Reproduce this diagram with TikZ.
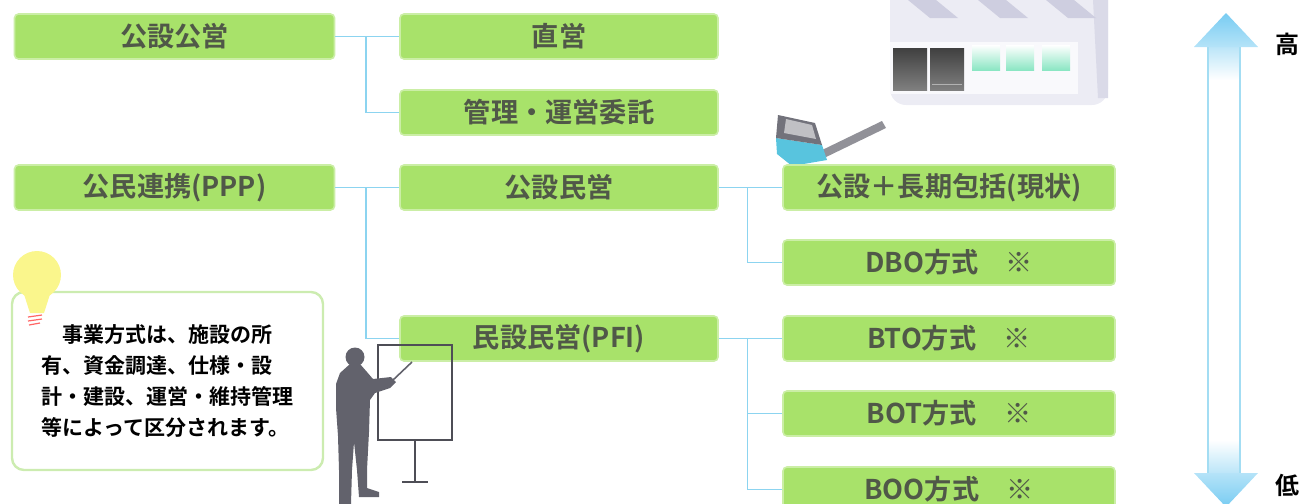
\documentclass[tikz,border=0pt]{standalone}
\usepackage{fontspec}
\setmainfont{Noto Sans CJK JP}[BoldFont={Noto Sans CJK JP Bold}]
\usetikzlibrary{calc}

\definecolor{boxgreen}{RGB}{168,226,106}
\definecolor{boxtext}{RGB}{80,88,72}
\definecolor{linkblue}{RGB}{140,212,240}
\definecolor{notegreen}{RGB}{204,236,176}
\definecolor{arrowblue}{RGB}{120,204,242}
\definecolor{figgrey}{RGB}{98,98,108}
\definecolor{wallgrey}{RGB}{236,236,244}
\definecolor{roofgrey}{RGB}{206,206,224}
\definecolor{bulbyellow}{RGB}{250,246,140}
\definecolor{truckcyan}{RGB}{88,196,222}

\tikzset{
  kind/.style={fill=boxgreen, draw=boxgreen!60!white, line width=0.8pt,
    rounded corners=2pt, minimum height=22.5pt, inner sep=0pt,
    text=boxtext, font=\fontsize{13.6}{13.6}\selectfont\bfseries},
  mainbox/.style={kind, minimum width=160pt},
  subbox/.style={kind, minimum width=159pt},
  typebox/.style={kind, minimum width=166pt},
  link/.style={linkblue, line width=0.7pt},
  notebox/.style={draw=notegreen, line width=1.2pt, fill=white, rounded corners=6pt,
    minimum width=155.5pt, minimum height=89pt, align=left,
    font=\fontsize{10.5}{15.5}\selectfont\bfseries},
  scalelabel/.style={font=\fontsize{12}{12}\selectfont\bfseries, inner sep=0pt},
}

\begin{document}
\begin{tikzpicture}[x=0.5pt, y=-0.5pt]
    \useasboundingbox (0,0) rectangle (1314,504);

    % Factory
    \fill[wallgrey, rounded corners=8pt] (890,-20) rectangle (1108,105);
    \fill[roofgrey!60!wallgrey] (1092,-20) -- (1108,-20) -- (1108,98) -- (1098,98) -- cycle;
    \foreach \x in {908,978,1046}
        \fill[roofgrey] (\x,0) -- (\x+28,0) -- (\x+50,18) -- (\x+22,18) -- cycle;
    \fill[white!70!wallgrey] (890,42) rectangle (1078,94);
    \foreach \x in {893,930}
        \shade[top color=black!75, bottom color=black!50] (\x,48) rectangle (\x+34,90);
    \draw[black!30, line width=0.5pt] (932,84) -- (962,84);
    \foreach \x in {972,1006,1042}
        \shade[top color=white, bottom color=truckcyan!70!green!60] (\x,45) rectangle (\x+28,70);

    % Truck
    \fill[figgrey!70] (818,152) -- (882,121) -- (886,128) -- (822,159) -- cycle;
    \fill[truckcyan] (776,138) -- (822,145) -- (827,160) -- (792,166) -- (777,154) -- cycle;
    \fill[figgrey!90] (778,115) -- (815,123) -- (822,145) -- (776,138) -- cycle;
    \fill[figgrey!40] (786,119) -- (812,125) -- (816,139) -- (784,133) -- cycle;

    % Categories
    \node[mainbox] (kouei)  at (174.5,36.5)  {公設公営};
    \node[mainbox] (ppp)    at (174.5,187.5) {公民連携(PPP)};

    \node[subbox] (chokuei) at (559,36.5)  {直営};
    \node[subbox] (itaku)   at (559,112.5) {管理・運営委託};
    \node[subbox] (kmin)    at (559,187.5) {公設民営};
    \node[subbox] (pfi)     at (559,338.5) {民設民営(PFI)};

    \node[typebox] (genjo)  at (949,187.5) {公設＋長期包括(現状)};
    \node[typebox] (dbo)    at (949,262.5) {DBO方式　※};
    \node[typebox] (bto)    at (949,338.5) {BTO方式　※};
    \node[typebox] (bot)    at (949,413.5) {BOT方式　※};
    \node[typebox] (boo)    at (949,489.5) {BOO方式　※};

    % Connectors
    \draw[link] (kouei.east) -- (chokuei.west);
    \draw[link] ($(kouei.east)!0.48!(chokuei.west)$) |- (itaku.west);
    \draw[link] (ppp.east) -- (kmin.west);
    \draw[link] ($(ppp.east)!0.48!(kmin.west)$) |- (pfi.west);
    \draw[link] (kmin.east) -- (genjo.west);
    \draw[link] ($(kmin.east)!0.45!(genjo.west)$) |- (dbo.west);
    \draw[link] (pfi.east) -- (bto.west);
    \draw[link] ($(pfi.east)!0.45!(bto.west)$) |- (bot.west);
    \draw[link] ($(pfi.east)!0.45!(bto.west)$) |- (boo.west);

    % Note
    \node[notebox] (note) at (167.5,381) {%
        　事業方式は、施設の所\\
        有、資金調達、仕様・設\\
        計・建設、運営・維持管理\\
        等によって区分されます。};

    % Bulb
    \fill[bulbyellow] (37,275) circle (24);
    \fill[bulbyellow] (22,288) -- (52,288) -- (44,313) -- (30,313) -- cycle;
    \draw[red!60, line width=0.6pt] (28,317) -- (42,315) (28,321) -- (42,319) (29,325) -- (40,323);

    % Presenter and board
    \draw[figgrey!80!black, line width=1.2pt] (378,345) rectangle (452,440);
    \draw[figgrey!80!black, line width=1.2pt] (415,440) -- (415,482) (402,482) -- (428,482);
    \draw[figgrey, line width=0.8pt] (392,381) -- (412,362);
    \fill[figgrey] (355,357) circle (9.5);
    \fill[figgrey] (350,364) -- (360,364) -- (367,372) -- (373,379) -- (391,377)
        -- (396,382) -- (390,388) -- (375,393) -- (370,400) -- (369,432)
        -- (367,470) -- (367,488) -- (379,492) -- (379,497) -- (359,497)
        -- (357,470) -- (354,442) -- (352,470) -- (351,504) -- (339,504)
        -- (339,470) -- (338,436) -- (336,408) -- (336,384) -- (340,373) -- cycle;

    % Scale arrow
    \fill[white] (1208,47) rectangle (1240,473);
    \shade[top color=arrowblue!50, bottom color=white] (1208,47) rectangle (1240,80);
    \shade[top color=white, bottom color=arrowblue!50] (1208,440) rectangle (1240,473);
    \draw[linkblue!80, line width=0.6pt] (1208,47) -- (1208,473) (1240,47) -- (1240,473);
    \shade[top color=arrowblue, bottom color=arrowblue!55] (1226,13) -- (1258,47) -- (1194,47) -- cycle;
    \shade[top color=arrowblue!55, bottom color=arrowblue] (1194,473) -- (1258,473) -- (1226,507) -- cycle;
    \node[scalelabel] (hi) at (1287,44) {高};
    \node[scalelabel] (lo) at (1287,485) {低};
\end{tikzpicture}
\end{document}
